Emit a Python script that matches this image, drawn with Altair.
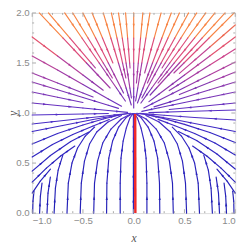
import math
import altair as alt
import pandas as pd

# ---- streamlines (data coordinates), listed in flow direction ----
upper_top_lines = [
    [(-0.93, 2), (-0.6975, 1.75), (-0.465, 1.5), (-0.2325, 1.25)],
    [(-0.84, 2), (-0.63, 1.75), (-0.42, 1.5), (-0.378, 1.45)],
    [(-0.68, 2), (-0.51, 1.75), (-0.34, 1.5), (-0.17, 1.25), (-0.082, 1.12)],
    [(-0.60, 2), (-0.45, 1.75), (-0.30, 1.5), (-0.21, 1.35)],
    [(-0.50, 2), (-0.375, 1.75), (-0.25, 1.5), (-0.125, 1.25), (-0.10, 1.2)],
    [(-0.41, 2), (-0.3075, 1.75), (-0.205, 1.5)],
    [(-0.30, 2), (-0.225, 1.75), (-0.15, 1.5), (-0.075, 1.25), (-0.024, 1.08)],
    [(-0.22, 2), (-0.165, 1.75), (-0.11, 1.5), (-0.077, 1.35)],
    [(-0.15, 2), (-0.1125, 1.75), (-0.075, 1.5), (-0.0375, 1.25), (-0.0225, 1.15)],
    [(-0.08, 2), (-0.06, 1.75), (-0.04, 1.5), (-0.036, 1.45)],
    [(0.0, 2), (0.0, 1.75), (0.0, 1.5), (0.0, 1.25), (0.0, 1.05)],
    [(0.09, 2), (0.0675, 1.75), (0.045, 1.5), (0.027, 1.3)],
    [(0.16, 2), (0.12, 1.75), (0.08, 1.5), (0.04, 1.25), (0.019, 1.12)],
    [(0.27, 2), (0.2025, 1.75), (0.135, 1.5), (0.108, 1.4)],
    [(0.37, 2), (0.2775, 1.75), (0.185, 1.5), (0.0925, 1.25), (0.037, 1.1)],
    [(0.45, 2), (0.3375, 1.75), (0.225, 1.5), (0.135, 1.3)],
    [(0.54, 2), (0.405, 1.75), (0.27, 1.5), (0.135, 1.25), (0.081, 1.15)],
    [(0.62, 2), (0.465, 1.75), (0.31, 1.5), (0.279, 1.45)],
    [(0.71, 2), (0.5325, 1.75), (0.355, 1.5), (0.1775, 1.25), (0.071, 1.1)],
    [(0.80, 2), (0.60, 1.75), (0.40, 1.5), (0.24, 1.3)],
    [(0.90, 2), (0.675, 1.75), (0.45, 1.5), (0.225, 1.25), (0.162, 1.18)],
    [(0.99, 2), (0.7425, 1.75), (0.495, 1.5), (0.396, 1.4)],
]

upper_left_lines = [
    [(-1, 1.76), (-0.75, 1.57), (-0.5, 1.38), (-0.3, 1.228)],
    [(-1, 1.57), (-0.75, 1.43), (-0.5, 1.285), (-0.25, 1.14), (-0.12, 1.068)],
    [(-1, 1.40), (-0.75, 1.30), (-0.5, 1.20), (-0.4, 1.16)],
    [(-1, 1.31), (-0.75, 1.2325), (-0.5, 1.155), (-0.25, 1.0775), (-0.15, 1.0465)],
    [(-1, 1.21), (-0.75, 1.1575), (-0.5, 1.105)],
    [(-1, 1.10), (-0.75, 1.075), (-0.5, 1.05), (-0.25, 1.025), (-0.06, 1.006)],
    [(-1, 0.98), (-0.5, 0.99), (-0.25, 0.995)],
]

upper_right_lines = [
    [(1, 1.88), (0.75, 1.66), (0.45, 1.396)],
    [(1, 1.76), (0.75, 1.57), (0.5, 1.38), (0.25, 1.19), (0.15, 1.114)],
    [(1, 1.64), (0.75, 1.48), (0.5, 1.32), (0.35, 1.224)],
    [(1, 1.51), (0.75, 1.3825), (0.5, 1.255), (0.25, 1.1275), (0.1, 1.051)],
    [(1, 1.41), (0.75, 1.3075), (0.45, 1.1845)],
    [(1, 1.31), (0.75, 1.2325), (0.5, 1.155), (0.2, 1.062)],
    [(1, 1.21), (0.75, 1.1575), (0.5, 1.105), (0.25, 1.0525), (0.08, 1.017)],
    [(1, 1.10), (0.75, 1.075), (0.35, 1.035)],
    [(1, 1.03), (0.5, 1.015), (0.15, 1.0045)],
]

lower_right_lines = [
    [(0.13, 0), (0.13, 0.3), (0.122, 0.55), (0.102, 0.72), (0.072, 0.85), (0.036, 0.95), (0.006, 0.995)],
    [(0.257, 0), (0.254, 0.3), (0.236, 0.55), (0.2, 0.72), (0.142, 0.86), (0.072, 0.955), (0.012, 0.995)],
    [(0.39, 0), (0.382, 0.3), (0.352, 0.52), (0.302, 0.7), (0.222, 0.84), (0.122, 0.94), (0.025, 0.993)],
    [(0.521, 0), (0.51, 0.3), (0.48, 0.52), (0.43, 0.69), (0.36, 0.81), (0.25, 0.91), (0.12, 0.975)],
    [(0.648, 0), (0.635, 0.3), (0.6, 0.5), (0.545, 0.65), (0.47, 0.77), (0.38, 0.86)],
    [(0.775, 0), (0.762, 0.25), (0.735, 0.43), (0.69, 0.58)],
    [(0.845, 0), (0.835, 0.2), (0.812, 0.36)],
    [(0.914, 0), (0.906, 0.17), (0.89, 0.3)],
    [(0.988, 0), (0.985, 0.12), (0.975, 0.22)],
]

lower_left_lines = [
    [(-0.133, 0), (-0.133, 0.3), (-0.125, 0.55), (-0.104, 0.72), (-0.073, 0.85), (-0.037, 0.95), (-0.006, 0.995)],
    [(-0.267, 0), (-0.264, 0.3), (-0.245, 0.55), (-0.208, 0.72), (-0.148, 0.86), (-0.075, 0.955), (-0.012, 0.995)],
    [(-0.394, 0), (-0.386, 0.3), (-0.356, 0.52), (-0.305, 0.7), (-0.224, 0.84), (-0.123, 0.94), (-0.025, 0.993)],
    [(-0.527, 0), (-0.516, 0.3), (-0.485, 0.52), (-0.435, 0.69), (-0.364, 0.81), (-0.253, 0.91), (-0.121, 0.975)],
    [(-0.657, 0), (-0.644, 0.3), (-0.608, 0.5), (-0.553, 0.65), (-0.477, 0.77), (-0.385, 0.86)],
    [(-0.784, 0), (-0.771, 0.25), (-0.744, 0.43), (-0.698, 0.58)],
    [(-0.854, 0), (-0.844, 0.2), (-0.821, 0.36)],
    [(-0.927, 0), (-0.919, 0.17), (-0.903, 0.3)],
    [(-0.995, 0), (-0.992, 0.12), (-0.982, 0.22)],
]

side_left_lines = [
    [(-1, 0.2), (-0.92, 0.32), (-0.82, 0.44)],
    [(-1, 0.31), (-0.86, 0.45), (-0.72, 0.57), (-0.58, 0.67)],
    [(-1, 0.42), (-0.82, 0.575), (-0.62, 0.715), (-0.44, 0.81)],
    [(-1, 0.56), (-0.8, 0.685), (-0.6, 0.785), (-0.4, 0.87), (-0.24, 0.935)],
    [(-1, 0.69), (-0.75, 0.795), (-0.5, 0.88), (-0.3, 0.94), (-0.12, 0.985)],
    [(-1, 0.815), (-0.7, 0.875), (-0.4, 0.935), (-0.16, 0.978), (-0.03, 0.998)],
    [(-1, 0.89), (-0.6, 0.935), (-0.3, 0.968), (-0.06, 0.995)],
]

side_right_lines = [
    [(1, 0.2), (0.92, 0.32), (0.82, 0.44)],
    [(1, 0.31), (0.86, 0.45), (0.72, 0.57), (0.58, 0.67)],
    [(1, 0.44), (0.82, 0.59), (0.62, 0.725), (0.44, 0.815)],
    [(1, 0.58), (0.8, 0.70), (0.6, 0.795), (0.4, 0.875), (0.24, 0.937)],
    [(1, 0.705), (0.75, 0.805), (0.5, 0.887), (0.3, 0.944), (0.12, 0.986)],
    [(1, 0.815), (0.7, 0.875), (0.4, 0.935), (0.16, 0.978), (0.03, 0.998)],
    [(1, 0.93), (0.6, 0.955), (0.3, 0.978), (0.06, 0.996)],
]

center_line = [[(-0.003, 0), (-0.003, 0.25), (-0.003, 0.5), (-0.003, 0.75), (-0.003, 0.995)]]

red_x = [0.016, 0.014]
red_y = [0.0, 0.99]

x_major = [-1.0, -0.5, 0.0, 0.5, 1.0]
x_minor = [-0.9, -0.8, -0.7, -0.6, -0.4, -0.3, -0.2, -0.1, 0.1, 0.2, 0.3, 0.4, 0.6, 0.7, 0.8, 0.9]
y_major = [0.0, 0.5, 1.0, 1.5, 2.0]
y_minor = [0.1, 0.2, 0.3, 0.4, 0.6, 0.7, 0.8, 0.9, 1.1, 1.2, 1.3, 1.4, 1.6, 1.7, 1.8, 1.9]

color_domain = [0, 0.8, 1.0, 1.25, 1.5, 1.75, 2.0]
color_range = ["#2020b4", "#3326c4", "#5430c6", "#8438b0", "#b8449a", "#ea6858", "#f8a42c"]

W, H = 210, 207

all_lines = (upper_top_lines + upper_left_lines + upper_right_lines + lower_right_lines
             + lower_left_lines + side_left_lines + side_right_lines + center_line)

seg_rows, arrow_rows = [], []
for line in all_lines:
    for i in range(len(line) - 1):
        (x1, y1), (x2, y2) = line[i], line[i + 1]
        seg_rows.append(dict(x=x1, y=y1, x2=x2, y2=y2, ym=(y1 + y2) / 2))
        if math.hypot(x2 - x1, y2 - y1) > 0.15:
            ang = math.degrees(math.atan2((x2 - x1) * W / 2, (y2 - y1) * H / 2)) % 360
            arrow_rows.append(dict(x=(x1 + x2) / 2, y=(y1 + y2) / 2, ym=(y1 + y2) / 2, ang=ang))

segs = pd.DataFrame(seg_rows)
arrows = pd.DataFrame(arrow_rows)
red = pd.DataFrame({"x": [red_x[0]], "x2": [red_x[1]], "y": [red_y[0]], "y2": [red_y[1]]})

xs = alt.Scale(domain=[-1, 1], nice=False, zero=False)
ys = alt.Scale(domain=[0, 2], nice=False, zero=False)
cs = alt.Scale(domain=color_domain, range=color_range)

lab = dict(labelColor="#8a8a8a", labelFontSize=10, labelFont="Liberation Sans",
           ticks=False, domain=False, grid=False, titleFont="Liberation Serif",
           titleFontStyle="italic", titleFontWeight="normal", titleFontSize=12, titleColor="#555555")

streams = alt.Chart(segs).mark_rule(strokeWidth=1.2, strokeCap="round").encode(
    x=alt.X("x:Q", scale=xs, axis=alt.Axis(values=x_major, format=".1f", title="x",
                                           labelPadding=3, titlePadding=7, **lab)),
    y=alt.Y("y:Q", scale=ys, axis=alt.Axis(values=y_major, format=".1f", title="y",
                                           labelPadding=3, titleX=-20, titleY=H / 2,
                                           titleBaseline="middle", **lab)),
    x2="x2:Q", y2="y2:Q",
    color=alt.Color("ym:Q", scale=cs, legend=None),
)

heads = alt.Chart(arrows).mark_point(filled=True, shape="M0,-1L0.6,1L-0.6,1Z", size=14, opacity=1).encode(
    x="x:Q", y="y:Q",
    color=alt.Color("ym:Q", scale=cs, legend=None),
    angle=alt.Angle("ang:Q", scale=None),
)

redline = alt.Chart(red).mark_rule(strokeWidth=2.6, color="#f02a2a").encode(
    x="x:Q", x2="x2:Q", y="y:Q", y2="y2:Q")

tick_color = "#a8a8a8"
xmaj = pd.DataFrame({"v": x_major})
xmin = pd.DataFrame({"v": x_minor})
ymaj = pd.DataFrame({"v": y_major})
ymin = pd.DataFrame({"v": y_minor})

def xticks(df, ln):
    b = alt.Chart(df).mark_rule(color=tick_color, strokeWidth=1).encode(
        x="v:Q", y=alt.value(H), y2=alt.value(H - ln))
    t = alt.Chart(df).mark_rule(color=tick_color, strokeWidth=1).encode(
        x="v:Q", y=alt.value(0), y2=alt.value(ln))
    return b + t

def yticks(df, ln):
    l = alt.Chart(df).mark_rule(color=tick_color, strokeWidth=1).encode(
        y="v:Q", x=alt.value(0), x2=alt.value(ln))
    r = alt.Chart(df).mark_rule(color=tick_color, strokeWidth=1).encode(
        y="v:Q", x=alt.value(W), x2=alt.value(W - ln))
    return l + r

chart = alt.layer(
    streams, heads, redline,
    xticks(xmaj, 4), xticks(xmin, 2), yticks(ymaj, 4), yticks(ymin, 2),
).properties(
    width=W, height=H,
    autosize=alt.AutoSizeParams(type="none"),
    padding={"left": 25, "top": 1, "right": 7, "bottom": 33},
).configure_view(stroke="#a6a6a6", strokeWidth=1).configure(background="white")

chart.save("out.html", embed_options={"renderer": "svg", "actions": False})
